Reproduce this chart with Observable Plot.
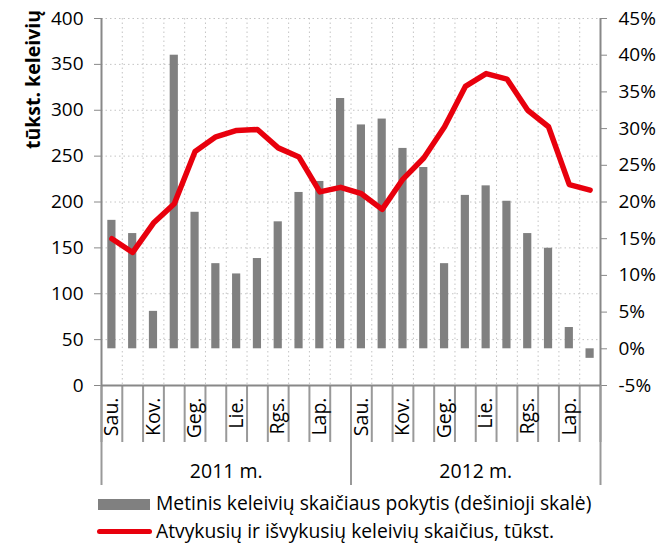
<!DOCTYPE html>
<html><head><meta charset="utf-8">
<script src="https://cdn.jsdelivr.net/npm/d3@7"></script>
<script src="https://cdn.jsdelivr.net/npm/@observablehq/plot@0.6"></script>
<style>
body{margin:0;background:#fff;font-family:"Open Sans",sans-serif;}
#wrap{position:relative;width:668px;height:543px;overflow:hidden;background:#fff}
#chart{position:absolute;left:0;top:0}
.lg{position:absolute;font-size:19.3px;line-height:26px;height:26px;white-space:nowrap;color:#000}
</style></head><body>
<div id="wrap"><div id="chart"></div>
<div style="position:absolute;left:98px;top:499px;width:52px;height:11px;background:#808080"></div>
<div class="lg" style="left:156px;top:490px" id="lg1"></div>
<div style="position:absolute;left:97px;top:529px;width:55px;height:5px;border-radius:3px;background:#e8000d"></div>
<div class="lg" style="left:156px;top:518px" id="lg2"></div>
</div>
<script>
const monthLabels = ["Sau.","","Kov.","","Geg.","","Lie.","","Rgs.","","Lap.",""];
const years = ["2011 m.","2012 m."];
// Metinis keleivių skaičiaus pokytis, % (right scale)
const changePct = [17.5,15.7,5.1,40.0,18.6,11.6,10.2,12.3,17.3,21.3,22.8,34.1,
                   30.5,31.3,27.3,24.7,11.6,20.9,22.2,20.1,15.7,13.7,2.9,-1.3];
// Atvykusių ir išvykusių keleivių skaičius, tūkst. (left scale)
const passengers = [160,145,177,198,255,271,278,279,259,249,211,216,
                    209,192,225,248,282,326,340,334,300,282,219,213];
const legendLabels = ["Metinis keleivių skaičiaus pokytis (dešinioji skalė)",
                      "Atvykusių ir išvykusių keleivių skaičius, tūkst."];
const yLabel = "tūkst. keleivių";

// right scale (-5%..45%) mapped onto left scale (0..400)
const toLeft = p => 40 + 8 * p;
const data = d3.range(passengers.length).map(i => ({i, pct: changePct[i], pax: passengers[i]}));
const n = data.length;
const F = "Open Sans";

const plot = Plot.plot({
  width: 668, height: 490,
  marginLeft: 101, marginRight: 68, marginTop: 18, marginBottom: 105,
  x: {domain: [0, n]},
  y: {domain: [0, 400]},
  style: {fontFamily: F, fontSize: "19px", color: "#000", background: "#fff", overflow: "visible"},
  marks: [
    Plot.gridY({ticks: d3.range(50, 401, 50), stroke: "#c4c4c4", strokeOpacity: 1, strokeDasharray: "1.5,3"}),
    Plot.gridX({ticks: d3.range(1, n), stroke: "#c4c4c4", strokeOpacity: 1, strokeDasharray: "1.5,3"}),
    Plot.rectY(data, {x1: d => d.i, x2: d => d.i + 1, y1: toLeft(0), y2: d => toLeft(d.pct),
      fill: "#808080", insetLeft: 6.3, insetRight: 6.3}),
    Plot.line(data, {x: d => d.i + 0.5, y: "pax", stroke: "#e8000d", strokeWidth: 5.5}),
    Plot.axisY({ticks: d3.range(0, 401, 50), tickSize: 7, tickPadding: 11, stroke: "#888", fill: "#000", fontSize: 19, label: null}),
    Plot.axisY({anchor: "right", ticks: d3.range(0, 401, 40), tickFormat: v => `${(v - 40) / 8}%`,
      tickSize: 6, tickPadding: 12, stroke: "#888", fill: "#000", fontSize: 19, label: null}),
    Plot.axisX({ticks: d3.range(0, n + 1), tickSize: 57, tickFormat: () => "", stroke: "#999", strokeWidth: 2, label: null}),
    Plot.axisX({ticks: [0, 12, 24], tickSize: 100, tickFormat: () => "", stroke: "#999", strokeWidth: 2, label: null}),
    Plot.axisX({ticks: d3.range(0, n, 2).map(i => i + 0.5), tickSize: 0, tickPadding: 12, tickRotate: -90,
      tickFormat: v => monthLabels[Math.floor(v) % 12], fontSize: 19.5, fill: "#000", label: null}),
    Plot.axisX({ticks: [6, 18], tickSize: 0, tickPadding: 79, tickFormat: v => years[v < 12 ? 0 : 1],
      fontSize: 19.5, fill: "#000", label: null}),
    Plot.ruleX([0, n], {stroke: "#888", strokeWidth: 2}),
    Plot.ruleY([0], {stroke: "#888", strokeWidth: 2})
  ]
});
d3.select(plot).append("text")
  .attr("transform", "translate(40,10) rotate(-90)")
  .attr("text-anchor", "end")
  .attr("font-family", F).attr("font-weight", "bold").attr("font-size", 19.5)
  .attr("fill", "#000")
  .text(yLabel);
document.getElementById("chart").appendChild(plot);
document.getElementById("lg1").textContent = legendLabels[0];
document.getElementById("lg2").textContent = legendLabels[1];
</script>
</body></html>
